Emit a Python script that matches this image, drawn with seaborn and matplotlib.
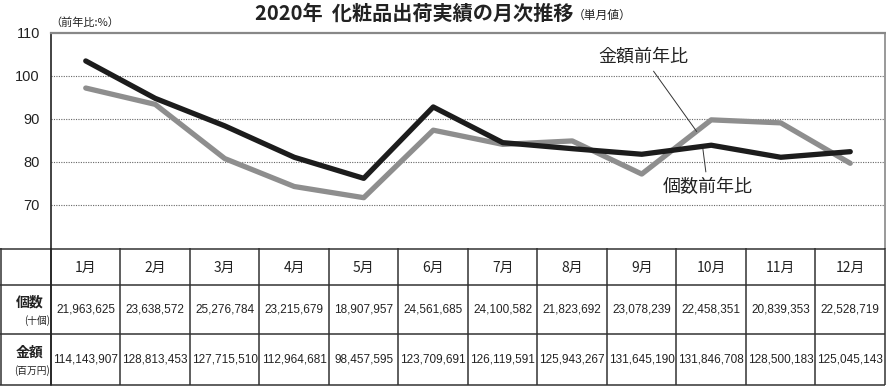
import numpy as np
import pandas as pd
import seaborn as sns
import matplotlib.pyplot as plt

# 前年比 (%)
months = ['1月', '2月', '3月', '4月', '5月', '6月', '7月', '8月', '9月', '10月', '11月', '12月']
kingaku_yoy = [103.5, 94.8, 88.4, 81.1, 76.2, 92.8, 84.5, 83.1, 81.8, 83.9, 81.1, 82.4]
kosu_yoy = [97.2, 93.4, 80.8, 74.3, 71.7, 87.4, 84.1, 84.9, 77.2, 89.8, 89.1, 79.7]

# table values
kosu = [21963625, 23638572, 25276784, 23215679, 18907957, 24561685,
        24100582, 21823692, 23078239, 22458351, 20839353, 22528719]
kingaku = [114143907, 128813453, 127715510, 112964681, 98457595, 123709691,
           126119591, 125943267, 131645190, 131846708, 128500183, 125045143]

sns.set_theme(style='white')
plt.rcParams['font.family'] = ['Noto Sans CJK JP', 'DejaVu Sans']

W, H = 886, 386
fig = plt.figure(figsize=(W / 100, H / 100), dpi=100)

# chart area
ax = fig.add_axes([51 / W, 1 - 248 / H, (885 - 51) / W, (248 - 33) / H])
df = pd.DataFrame({
    'idx': list(range(12)) * 2,
    'value': kosu_yoy + kingaku_yoy,
    'series': ['個数前年比'] * 12 + ['金額前年比'] * 12,
})
sns.lineplot(data=df, x='idx', y='value', hue='series',
             hue_order=['個数前年比', '金額前年比'],
             palette={'個数前年比': '#8e8e8e', '金額前年比': '#1c1c1c'},
             linewidth=3.8, legend=False, ax=ax)

ax.set_xlim(-0.5, 11.5)
ax.set_ylim(60, 110)
ax.set_yticks([70, 80, 90, 100, 110])
ax.set_xticks([])
ax.set_xlabel('')
ax.set_ylabel('')
ax.tick_params(axis='y', length=0, pad=8, labelsize=10.5, colors='#222')
for t in ax.get_yticklabels():
    t.set_family(['Liberation Sans', 'DejaVu Sans'])
for y in [70, 80, 90, 100]:
    ax.axhline(y, color='#666', lw=0.8, ls=(0, (1, 1.2)), zorder=0)
ax.spines['left'].set_color('#222')
ax.spines['left'].set_linewidth(1.2)
ax.spines['top'].set_color('#888')
ax.spines['top'].set_linewidth(1.6)
ax.spines['right'].set_color('#888')
ax.spines['right'].set_linewidth(1.2)
ax.spines['bottom'].set_visible(False)

ax.annotate('金額前年比', xy=(8.79, 87.1), xytext=(8.02, 104.5),
            ha='center', va='center', fontsize=13, color='#222',
            arrowprops=dict(arrowstyle='-', lw=0.7, color='#333', shrinkA=2, shrinkB=0))
ax.annotate('個数前年比', xy=(8.88, 83.0), xytext=(8.95, 74.2),
            ha='center', va='center', fontsize=13, color='#222',
            arrowprops=dict(arrowstyle='-', lw=0.7, color='#333', shrinkA=2, shrinkB=0))

fig.text(255 / W, 1 - 13 / H, '2020年  化粧品出荷実績の月次推移', ha='left', va='center',
         fontsize=14.5, fontweight='bold', color='#222')
fig.text(573 / W, 1 - 15 / H, '（単月値）', ha='left', va='center', fontsize=8.5, color='#222')
fig.text(50 / W, 1 - 23 / H, '（前年比:%）', ha='left', va='center', fontsize=8, color='#222')

# table below the chart
tax = fig.add_axes([0, 0, 1, 1 - 248 / H])
tax.set_xlim(0, W)
tax.set_ylim(386, 248)
tax.axis('off')

col_w = (885 - 51) / 12
x_edges = [0.5, 51] + [51 + col_w * k for k in range(1, 13)]
y_edges = [248.5, 285, 334, 385]
for y in y_edges:
    tax.plot([0, 885], [y, y], color='#333', lw=1.1, solid_capstyle='butt')
for x in x_edges:
    tax.plot([x, x], [248, 385], color='#333', lw=1.1, solid_capstyle='butt')
tax.plot([51, 51], [248, 385], color='#222', lw=1.2)

num_font = ['Liberation Sans', 'DejaVu Sans']
for i, m in enumerate(months):
    cx = 51 + col_w * (i + 0.5)
    tax.text(cx, 268, m, ha='center', va='center', fontsize=10, color='#222')
    tax.text(cx, 310, f'{kosu[i]:,}', ha='center', va='center', fontsize=8.5,
             family=num_font, color='#222')
    tax.text(cx, 359, f'{kingaku[i]:,}', ha='center', va='center', fontsize=8.5,
             family=num_font, color='#222')

tax.text(30, 303, '個数', ha='center', va='center', fontsize=10, fontweight='bold', color='#222')
tax.text(50, 321, '(十個)', ha='right', va='center', fontsize=7, color='#222')
tax.text(30, 353, '金額', ha='center', va='center', fontsize=10, fontweight='bold', color='#222')
tax.text(50, 371, '(百万円)', ha='right', va='center', fontsize=7, color='#222')

fig.savefig('out.png', dpi=100)
